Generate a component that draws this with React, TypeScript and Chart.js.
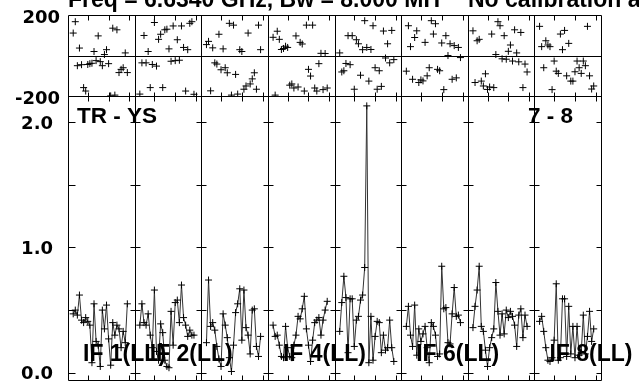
import React, { useEffect, useRef } from 'react';
import { Chart, registerables } from 'chart.js';

Chart.register(...registerables);

// ---- data ----
const CHANNELS_PER_IF = 32;
const CHANNELS = [3, 4, 5, 6, 7, 8, 9, 10, 11, 12, 13, 14, 15, 16, 17, 18, 19, 20, 21, 22, 23, 24, 25, 26, 27, 28, 29];
const IF_LABELS = ['IF 1(LL)', 'IF 2(LL)', '', 'IF 4(LL)', '', 'IF 6(LL)', '', 'IF 8(LL)'];
const TITLE_MAIN = 'Freq = 6.6340 GHz, Bw = 8.000 MH';
const TITLE_NOTE = 'No calibration applied';
const BASELINE_LEFT = 'TR - YS';
const BASELINE_RIGHT = '7 - 8';

const AMP_TICKS = [0, 0.5, 1, 1.5, 2];
const AMP_LABELLED = [0, 1, 2];
const PHASE_TICKS = [-200, 0, 200];
const PHASE_LABELLED = [-200, 200];
const CHANNEL_TICKS = [10, 20, 30];

const amp1 = [0.47, 0.50, 0.46, 0.62, 0.42, 0.40, 0.44, 0.41, 0.38, 0.08, 0.55, 0.25, 0.22, 0.05, 0.50, 0.35, 0.54, 0.27, 0.06, 0.40, 0.30, 0.38, 0.35, 0.20, 0.33, 0.24, 0.55];
const amp2 = [0.38, 0.55, 0.40, 0.38, 0.47, 0.30, 0.20, 0.66, 0.17, 0.10, 0.39, 0.32, 0.10, 0.05, 0.04, 0.49, 0.22, 0.56, 0.58, 0.40, 0.70, 0.44, 0.38, 0.29, 0.34, 0.30, 0.30];
const amp3 = [0.24, 0.74, 0.37, 0.40, 0.34, 0.21, 0.11, 0.05, 0.47, 0.38, 0.28, 0.12, 0.01, 0.22, 0.48, 0.55, 0.67, 0.26, 0.66, 0.36, 0.30, 0.15, 0.50, 0.51, 0.21, 0.13, 0.29];
const amp4 = [0.38, 0.29, 0.30, 0.22, 0.13, 0.12, 0.37, 0.20, 0.13, 0.12, 0.22, 0.30, 0.45, 0.43, 0.51, 0.61, 0.35, 0.22, 0.09, 0.26, 0.40, 0.42, 0.44, 0.30, 0.42, 0.50, 0.57];
const amp5 = [0.33, 0.56, 0.77, 0.60, 0.16, 0.59, 0.59, 0.21, 0.42, 0.45, 0.58, 0.62, 0.84, 2.13, 0.08, 0.45, 0.10, 0.29, 0.41, 0.40, 0.16, 0.30, 0.18, 0.20, 0.42, 0.20, 0.09];
const amp6 = [0.37, 0.53, 0.30, 0.21, 0.54, 0.14, 0.35, 0.25, 0.31, 0.37, 0.20, 0.08, 0.40, 0.37, 0.30, 0.13, 0.15, 0.85, 0.51, 0.52, 0.24, 0.23, 0.47, 0.68, 0.45, 0.46, 0.40];
const amp7 = [0.36, 0.53, 0.66, 0.85, 0.37, 0.33, 0.18, 0.05, 0.20, 0.28, 0.35, 0.72, 0.49, 0.30, 0.47, 0.31, 0.50, 0.44, 0.49, 0.45, 0.38, 0.21, 0.46, 0.51, 0.28, 0.46, 0.37];
const amp8 = [0.41, 0.45, 0.33, 0.20, 0.10, 0.09, 0.12, 0.26, 0.71, 0.10, 0.12, 0.59, 0.59, 0.13, 0.53, 0.15, 0.37, 0.12, 0.37, 0.14, 0.16, 0.46, 0.15, 0.29, 0.49, 0.25, 0.35];

const ph1 = [111, 167, -50, 37, -45, -158, -175, -44, -40, -38, 20, -25, 97, -30, -50, 5, 29, -40, -199, 135, -195, 127, -84, -68, -60, 13, -84];
const ph2 = [-190, -36, 99, -36, 20, -158, -44, 163, -52, 80, 105, -158, 127, 130, 33, -28, 146, -25, 78, -23, 146, 40, -175, 29, 159, 167, -191];
const ph3 = [54, 70, -174, 38, -36, -42, 105, -70, 33, -60, -85, 159, -195, 150, -93, -190, 29, 20, -166, -150, 111, -140, -115, -85, -166, 150, 29];
const ph4 = [90, -195, 120, 80, 30, 35, 46, 40, -146, -140, -160, 97, -155, 65, 57, -175, 150, -68, -101, 150, -160, -175, -40, 11, -168, 10, -160];
const ph5 = [13, -81, -75, -39, 98, -45, 98, -166, 78, 58, -97, 29, 172, 40, -126, 30, 147, -60, -166, -75, -152, 121, -12, 58, -36, 124, -20];
const ph6 = [-77, 147, 44, -117, 89, 122, -133, -120, -125, 65, -100, -60, 172, 106, 157, -68, -75, 62, -168, 98, 0, 58, -117, 49, -110, 40, -10];
const ph7 = [122, -133, 73, 80, -126, -150, -90, -167, -155, 106, -158, 5, 167, 147, -16, 98, -18, 21, 52, -27, 127, 13, -31, 114, -158, -42, -81];
const ph8 = [144, 44, -60, 73, 52, 44, -168, -27, -77, -88, 106, 29, 124, -100, 60, -126, -126, -80, -27, -60, -88, -27, -50, 144, -100, -165, -150];

const AMPS = [amp1, amp2, amp3, amp4, amp5, amp6, amp7, amp8];
const PHASES = [ph1, ph2, ph3, ph4, ph5, ph6, ph7, ph8];

const AXIS_FONT = '"DejaVu Sans"';
const LABEL_FONT = '"Liberation Sans"';

const crisp = (v: number) => Math.round(v) + 0.5;

const decorPlugin = {
  id: 'decor',
  beforeDatasetsDraw(chart: any) {
    const { ctx, scales } = chart;
    const xs = scales.x, yA = scales.yA, yP = scales.yP;
    const nIF = AMPS.length;
    const left = xs.getPixelForValue(0.5);
    const right = xs.getPixelForValue(nIF * CHANNELS_PER_IF + 0.5);
    const pTop = crisp(yP.getPixelForValue(200));
    const pMid = crisp(yP.getPixelForValue(0));
    const pBot = crisp(yP.getPixelForValue(-200));
    const aBot = crisp(yA.bottom - 1);
    ctx.save();
    ctx.strokeStyle = '#000';
    ctx.lineWidth = 1;
    ctx.beginPath();
    for (const y of [pTop, pMid, pBot, aBot]) {
      ctx.moveTo(crisp(left), y);
      ctx.lineTo(crisp(right), y);
    }
    for (let k = 0; k <= nIF; k++) {
      const x = crisp(xs.getPixelForValue(k * CHANNELS_PER_IF + 0.5));
      ctx.moveTo(x, pTop);
      ctx.lineTo(x, aBot);
      for (const v of AMP_TICKS) {
        const y = crisp(yA.getPixelForValue(v));
        const l = k === 0 ? 0 : 5;
        const r = k === nIF ? 0 : (k === 0 ? 7 : 5);
        ctx.moveTo(x - l, y);
        ctx.lineTo(x + r, y);
      }
    }
    for (let k = 0; k < nIF; k++) {
      for (const t of CHANNEL_TICKS) {
        const x = crisp(xs.getPixelForValue(k * CHANNELS_PER_IF + t));
        ctx.moveTo(x, aBot);
        ctx.lineTo(x, aBot - 5);
        ctx.moveTo(x, pBot - 4);
        ctx.lineTo(x, pBot + 5);
        ctx.moveTo(x, pTop);
        ctx.lineTo(x, pTop + 5);
      }
    }
    ctx.stroke();
    ctx.restore();
  },
  afterDatasetsDraw(chart: any) {
    const { ctx, scales } = chart;
    const xs = scales.x, yA = scales.yA;
    const nIF = AMPS.length;
    ctx.save();
    ctx.fillStyle = '#000';
    ctx.textBaseline = 'alphabetic';
    ctx.textAlign = 'left';
    ctx.font = `bold 23px ${LABEL_FONT}`;
    IF_LABELS.forEach((lab, k) => {
      if (!lab) return;
      const x = xs.getPixelForValue(k * CHANNELS_PER_IF + 0.5) + 15;
      ctx.fillText(lab, x, yA.bottom - 20);
    });
    ctx.font = `bold 22.5px ${LABEL_FONT}`;
    const left = xs.getPixelForValue(0.5);
    const right = xs.getPixelForValue(nIF * CHANNELS_PER_IF + 0.5);
    ctx.fillText(BASELINE_LEFT, left + 9, yA.top + 27);
    ctx.textAlign = 'right';
    ctx.fillText(BASELINE_RIGHT, right - 28, yA.top + 27);
    // title (clipped at the top of the page as in the original)
    ctx.textAlign = 'left';
    ctx.font = `bold 23px ${LABEL_FONT}`;
    ctx.fillText(TITLE_MAIN, left, 7);
    ctx.fillText(TITLE_NOTE, 468, 7);
    ctx.restore();
  },
};

export default function App() {
  const ref = useRef<HTMLCanvasElement | null>(null);
  useEffect(() => {
    if (!ref.current) return;
    const datasets: any[] = [];
    AMPS.forEach((arr, i) => {
      datasets.push({
        label: `amp${i + 1}`,
        data: CHANNELS.map((c, j) => ({ x: i * CHANNELS_PER_IF + c, y: arr[j] })),
        yAxisID: 'yA',
        borderColor: '#333',
        borderWidth: 1,
        pointStyle: 'cross',
        pointRadius: 3.5,
        pointBorderColor: '#000',
        pointBorderWidth: 1,
        tension: 0,
        fill: false,
      });
    });
    PHASES.forEach((arr, i) => {
      datasets.push({
        label: `phase${i + 1}`,
        data: CHANNELS.map((c, j) => ({ x: i * CHANNELS_PER_IF + c, y: arr[j] })),
        yAxisID: 'yP',
        showLine: false,
        pointStyle: 'cross',
        pointRadius: 3.5,
        pointBorderColor: '#000',
        pointBorderWidth: 1,
      });
    });
    const tickFont = { family: AXIS_FONT, weight: 'bold' as const, size: 18 };
    const chart = new Chart(ref.current, {
      type: 'line',
      data: { datasets },
      options: {
        animation: false,
        responsive: false,
        devicePixelRatio: 1,
        layout: { padding: { left: 0, right: 38, top: 15, bottom: 0 } },
        plugins: { legend: { display: false }, tooltip: { enabled: false }, title: { display: false } },
        scales: {
          x: { type: 'linear', min: 0.5, max: AMPS.length * CHANNELS_PER_IF + 0.5, display: false },
          yA: {
            type: 'linear', position: 'left', stack: 'v', stackWeight: 288, weight: 0,
            min: -0.066, max: 2.208,
            afterBuildTicks: (s: any) => { s.ticks = AMP_TICKS.map((v) => ({ value: v })); },
            afterFit: (s: any) => { s.width = 68; s.paddingTop = 0; s.paddingBottom = 0; },
            grid: { display: false, drawTicks: false },
            border: { display: false },
            ticks: {
              padding: 15, labelOffset: 2, color: '#000', font: tickFont,
              callback: (v: any) => (AMP_LABELLED.includes(Number(v)) ? Number(v).toFixed(1) : ''),
            },
          },
          yP: {
            type: 'linear', position: 'left', stack: 'v', stackWeight: 82, weight: 1,
            min: -200, max: 200,
            afterBuildTicks: (s: any) => { s.ticks = PHASE_TICKS.map((v) => ({ value: v })); },
            afterFit: (s: any) => { s.width = 68; s.paddingTop = 0; s.paddingBottom = 0; },
            grid: { display: false, drawTicks: false },
            border: { display: false },
            ticks: {
              padding: 8, labelOffset: 3, color: '#000', font: tickFont,
              callback: (v: any) => (PHASE_LABELLED.includes(Number(v)) ? String(v) : ''),
            },
          },
        },
      } as any,
      plugins: [decorPlugin],
    });
    return () => chart.destroy();
  }, []);
  return (
    <div style={{ position: 'absolute', left: 0, top: 0, width: 639, height: 386, background: '#fff' }}>
      <canvas ref={ref} width={639} height={386} style={{ width: 639, height: 386, display: 'block' }} />
    </div>
  );
}
